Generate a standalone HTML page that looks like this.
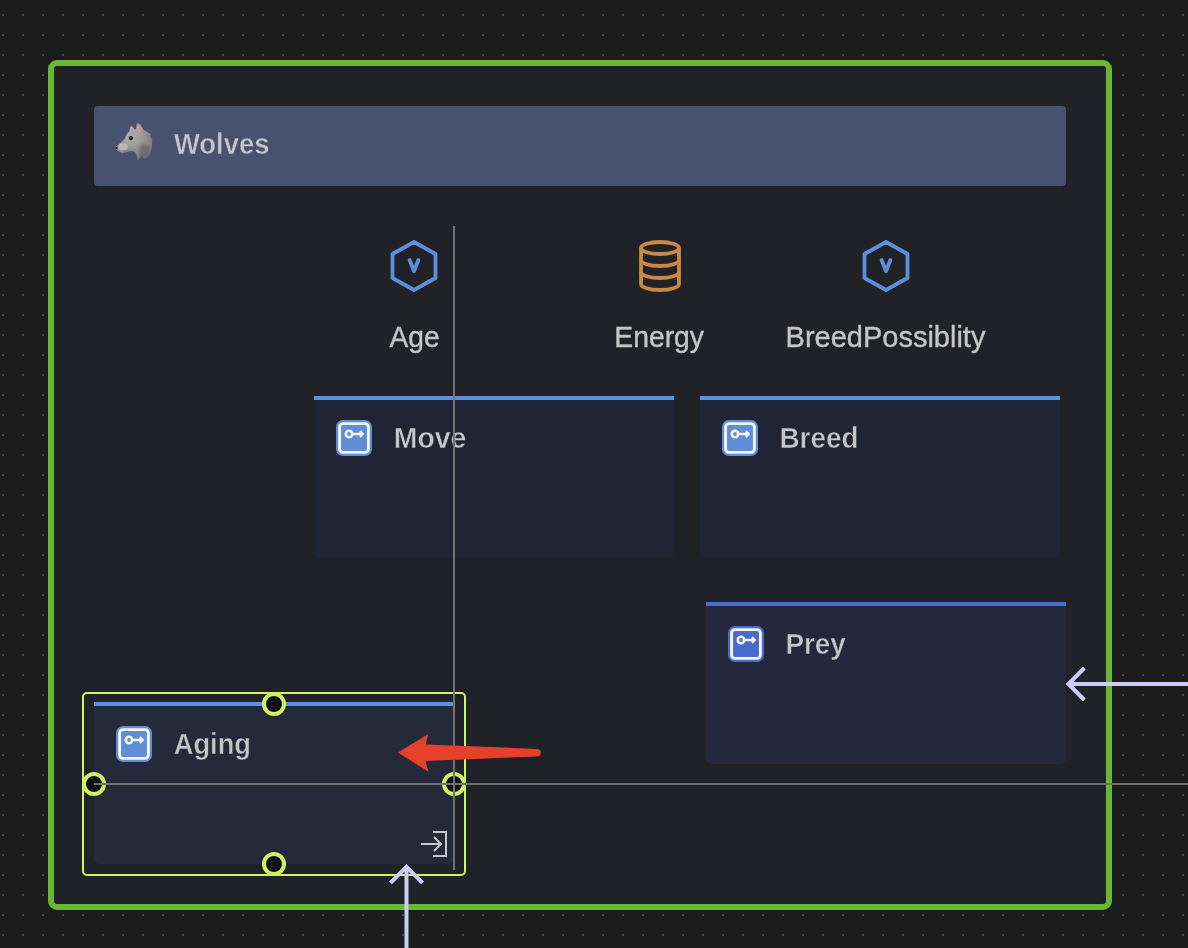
<!DOCTYPE html>
<html><head><meta charset="utf-8">
<style>
html,body{margin:0;padding:0;background:#1c1c1c;width:1188px;height:948px;overflow:hidden;}
svg{display:block;}
text{font-family:"Liberation Sans",sans-serif;}
svg{will-change:transform;}
</style></head>
<body>
<svg width="1188" height="948" viewBox="0 0 1188 948">
<defs>
<pattern id="dots" x="2" y="14" width="20" height="20" patternUnits="userSpaceOnUse">
<rect x="0" y="0" width="2" height="2" fill="#484848"/>
</pattern>
<radialGradient id="wolfg" cx="0.35" cy="0.3" r="0.8">
<stop offset="0" stop-color="#b0b0b0"/>
<stop offset="0.5" stop-color="#999999"/>
<stop offset="1" stop-color="#707070"/>
</radialGradient>
<clipPath id="wolfclip"><path d="M114.55 148.1C116 146.8 117.5 145.5 118.5 144.6C120 143 122 141.6 123.1 140.4C124.2 139.2 125 138.2 125.5 137.2C126.2 135.8 126.8 134.6 127.3 133.5C128 132.3 128.8 131.6 129.6 131.1L129.9 127.5C130.2 126.5 130.8 126 131.3 126C132.3 126.4 133.2 127.5 134 128.4L134.7 129.5L136.1 129.3L136.5 125.5C136.9 124 137.4 123.2 138 123.2C139.3 123.4 140.3 124.3 140.9 125.2L143.6 129.7L151.4 134.8L149.5 135.8L152.8 140.4L151.7 141C152.3 144 152 147.5 151.4 150.2C150.8 152.5 150 154 149.1 155.3C147.6 157 146 158 144.5 158.5L143.6 158.9L142.2 155L137.8 160.8C137.6 159.5 137.4 158.3 137.1 157.1C136.8 155.9 136.5 154.8 136.1 153.9C135.6 152.8 135 152 134.3 151.6C133 151.2 131.8 151 130.6 151.1C129 151.5 127.5 152.1 125.9 152.5C124.6 152.8 123.4 153 122.2 152.9C121 152.6 120 152.2 119 151.6C118 151 117 150.4 116.2 149.7C115.6 149.2 115 148.6 114.55 148.1Z"/></clipPath>
<filter id="wblur2" x="-50%" y="-50%" width="200%" height="200%"><feGaussianBlur stdDeviation="0.7"/></filter>
<filter id="wblur" x="-50%" y="-50%" width="200%" height="200%"><feGaussianBlur stdDeviation="1.6"/></filter>
<g id="keyicon">
<rect x="0" y="0" width="36" height="36" rx="7"/>
<rect x="3.6" y="3.6" width="28.8" height="28.8" rx="3.5" fill="none" stroke="#f5f4f0" stroke-width="2.9"/>
<circle cx="13" cy="14" r="3.2" fill="none" stroke="#f5f4f0" stroke-width="2.6"/>
<path d="M16.2 14H26M23.9 11.2L26.6 14L23.9 16.8" fill="none" stroke="#f5f4f0" stroke-width="2.4"/>
</g>
</defs>
<!-- background -->
<rect width="1188" height="948" fill="#1c1c1c"/>
<rect width="1188" height="948" fill="url(#dots)"/>
<!-- frame -->
<rect x="51" y="63" width="1058" height="844" rx="6" fill="#212228" stroke="#6ab736" stroke-width="6"/>
<!-- header -->
<rect x="94" y="106" width="972" height="80" rx="4" fill="#48526f"/>
<!-- wolf emoji -->
<g>
<path d="M114.55 148.1C116 146.8 117.5 145.5 118.5 144.6C120 143 122 141.6 123.1 140.4C124.2 139.2 125 138.2 125.5 137.2C126.2 135.8 126.8 134.6 127.3 133.5C128 132.3 128.8 131.6 129.6 131.1L129.9 127.5C130.2 126.5 130.8 126 131.3 126C132.3 126.4 133.2 127.5 134 128.4L134.7 129.5L136.1 129.3L136.5 125.5C136.9 124 137.4 123.2 138 123.2C139.3 123.4 140.3 124.3 140.9 125.2L143.6 129.7L151.4 134.8L149.5 135.8L152.8 140.4L151.7 141C152.3 144 152 147.5 151.4 150.2C150.8 152.5 150 154 149.1 155.3C147.6 157 146 158 144.5 158.5L143.6 158.9L142.2 155L137.8 160.8C137.6 159.5 137.4 158.3 137.1 157.1C136.8 155.9 136.5 154.8 136.1 153.9C135.6 152.8 135 152 134.3 151.6C133 151.2 131.8 151 130.6 151.1C129 151.5 127.5 152.1 125.9 152.5C124.6 152.8 123.4 153 122.2 152.9C121 152.6 120 152.2 119 151.6C118 151 117 150.4 116.2 149.7C115.6 149.2 115 148.6 114.55 148.1Z" fill="url(#wolfg)"/>
<g clip-path="url(#wolfclip)"><ellipse cx="144" cy="151" rx="5" ry="7" fill="#5a5a5a" opacity="0.5" filter="url(#wblur)"/><ellipse cx="128" cy="151" rx="6" ry="2.2" fill="#5a5a5a" opacity="0.35" filter="url(#wblur)"/></g>
<ellipse cx="123.1" cy="146.9" rx="4.8" ry="3.3" fill="#bcbcbc" opacity="0.9" filter="url(#wblur2)"/>
<path d="M130.6 127.9L132 127L133.3 129.3L131.5 130Z" fill="#cf9ba3"/>
<path d="M137.1 126L138.7 125.3L141 131.6L139.8 132.5L137.8 131.1Z" fill="#cf9ba3"/>
<circle cx="130.8" cy="138.1" r="2.1" fill="#111"/>
<circle cx="131" cy="137.3" r="0.55" fill="#777"/>
<path d="M114.4 148.1L117.7 146.4L117.2 149.4Z" fill="#151515"/>
</g>
<text x="174.00" y="154" font-size="30" font-weight="bold" fill="#c5c5c5" stroke="#48526f" stroke-width="0.5" textLength="95.47" lengthAdjust="spacingAndGlyphs">Wolves</text>

<!-- property icons -->
<g fill="none" stroke="#5b8fd9" stroke-width="3.8" stroke-linejoin="round" stroke-linecap="round">
<path d="M414 242L435.5 254V278L414 290L392.5 278V254Z"/>
<path d="M409.6 260L414 271.3L418.4 260"/>
<path d="M886 242L907.5 254V278L886 290L864.5 278V254Z"/>
<path d="M881.6 260L886 271.3L890.4 260"/>
</g>
<g fill="none" stroke="#c98945" stroke-width="3.8">
<ellipse cx="660" cy="248" rx="19" ry="6"/>
<path d="M641 248V284A19 6 0 0 0 679 284V248"/>
<path d="M641 260A19 6 0 0 0 679 260"/>
<path d="M641 272A19 6 0 0 0 679 272"/>
</g>
<text x="389.40" y="347" font-size="29" fill="#c5c5c5" stroke="#c5c5c5" stroke-width="0.35" textLength="50.20" lengthAdjust="spacingAndGlyphs">Age</text>
<text x="614.25" y="347" font-size="29" fill="#c5c5c5" stroke="#c5c5c5" stroke-width="0.35" textLength="89.75" lengthAdjust="spacingAndGlyphs">Energy</text>
<text x="785.60" y="347" font-size="29" fill="#c5c5c5" stroke="#c5c5c5" stroke-width="0.35" textLength="199.78" lengthAdjust="spacingAndGlyphs">BreedPossiblity</text>

<!-- nodes -->
<g>
<path d="M314 396H674V553A5 5 0 0 1 669 558H319A5 5 0 0 1 314 553Z" fill="#212434"/>
<rect x="314" y="396" width="360" height="4" fill="#5f8edb"/>
<use href="#keyicon" x="336" y="420" fill="#5f8dd8"/>
<text x="393.68" y="448" font-size="30" font-weight="bold" fill="#c5c5c5" stroke="#212434" stroke-width="0.5" textLength="72.75" lengthAdjust="spacingAndGlyphs">Move</text>
</g>
<g>
<path d="M700 396H1060V553A5 5 0 0 1 1055 558H705A5 5 0 0 1 700 553Z" fill="#212434"/>
<rect x="700" y="396" width="360" height="4" fill="#5f8edb"/>
<use href="#keyicon" x="722" y="420" fill="#5f8dd8"/>
<text x="779.49" y="448" font-size="30" font-weight="bold" fill="#c5c5c5" stroke="#212434" stroke-width="0.5" textLength="79.04" lengthAdjust="spacingAndGlyphs">Breed</text>
</g>
<g>
<path d="M706 602H1066V759A5 5 0 0 1 1061 764H711A5 5 0 0 1 706 759Z" fill="#23283c"/>
<rect x="706" y="602" width="360" height="4" fill="#4b6bd0"/>
<use href="#keyicon" x="728" y="626" fill="#4b6ad0"/>
<text x="785.49" y="654" font-size="30" font-weight="bold" fill="#c5c5c5" stroke="#23283c" stroke-width="0.5" textLength="60.31" lengthAdjust="spacingAndGlyphs">Prey</text>
</g>
<g>
<path d="M94 702H454V859A5 5 0 0 1 449 864H99A5 5 0 0 1 94 859Z" fill="#252a3b"/>
<rect x="94" y="702" width="360" height="4" fill="#5f8edb"/>
<use href="#keyicon" x="116" y="726" fill="#5f8dd8"/>
<text x="173.69" y="754" font-size="30" font-weight="bold" fill="#c5c5c5" stroke="#252a3b" stroke-width="0.5" textLength="77.32" lengthAdjust="spacingAndGlyphs">Aging</text>
<!-- exit icon -->
<path d="M433 832H446V856H433M421 844H441M434 837L441 844L434 851" fill="none" stroke="#c8c8c8" stroke-width="2"/>
</g>

<!-- selection -->
<rect x="83" y="693" width="382" height="182" rx="4" fill="none" stroke="#d0f55c" stroke-width="2"/>
<g fill="#111" stroke="#cdf55b" stroke-width="4">
<circle cx="274" cy="704" r="10"/>
<circle cx="274" cy="864" r="10"/>
<circle cx="94" cy="784" r="10"/>
<circle cx="454" cy="784" r="10"/>
</g>
<!-- guide lines -->
<rect x="453" y="226" width="2" height="644" fill="#717171"/>
<rect x="94" y="783" width="1094" height="2" fill="#717171"/>

<!-- lavender arrows -->
<g fill="none" stroke="#cdcbf8" stroke-width="4">
<path d="M1188 684H1069"/>
<path d="M1084.4 668L1068.4 684L1084.4 700"/>
<path d="M406.5 948V867"/>
<path d="M390.5 882.8L406.5 866.8L422.5 882.8"/>
</g>
<!-- red arrow -->
<path d="M398 752.6L428.3 734L425.5 744.4L537 748.9A3.75 3.75 0 0 1 537 756.4L425.5 761L428.5 771.8Z" fill="#e5402a"/>
</svg>
</body></html>
